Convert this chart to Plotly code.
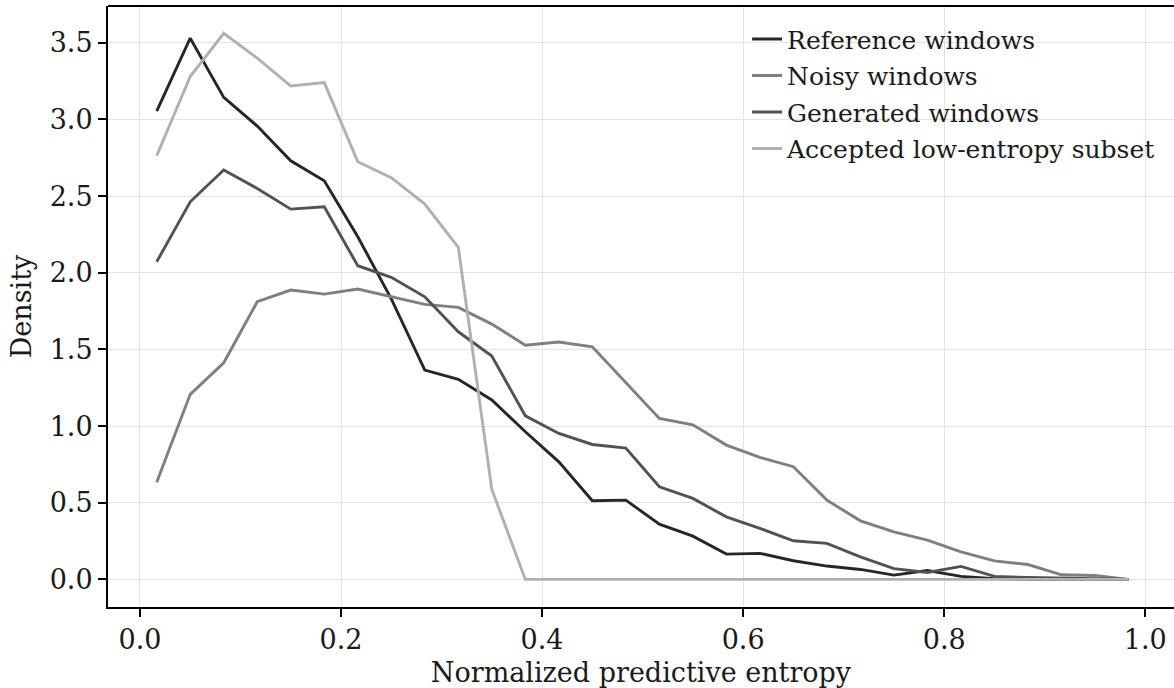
import plotly.graph_objects as go

# bin centres of 30 equal-width bins on [0, 1]
entropy_bins = [(2 * i + 1) / 60 for i in range(30)]

reference_windows = [3.055, 3.53, 3.144, 2.957, 2.73, 2.60, 2.235, 1.83, 1.365, 1.305,
                     1.17, 0.963, 0.767, 0.513, 0.517, 0.36, 0.282, 0.165, 0.17, 0.122,
                     0.087, 0.065, 0.028, 0.058, 0.02, 0.005, 0.0, 0.0, 0.0, 0.0]
noisy_windows = [0.633, 1.207, 1.413, 1.811, 1.887, 1.861, 1.894, 1.843, 1.794, 1.774,
                 1.665, 1.528, 1.548, 1.517, 1.28, 1.05, 1.008, 0.876, 0.796, 0.735,
                 0.517, 0.382, 0.31, 0.256, 0.18, 0.121, 0.097, 0.03, 0.025, 0.0]
generated_windows = [2.072, 2.463, 2.67, 2.55, 2.415, 2.43, 2.046, 1.97, 1.843, 1.615,
                     1.457, 1.067, 0.952, 0.88, 0.856, 0.604, 0.528, 0.408, 0.333, 0.252,
                     0.235, 0.147, 0.07, 0.045, 0.085, 0.02, 0.012, 0.01, 0.005, 0.0]
accepted_subset = [2.763, 3.28, 3.562, 3.40, 3.218, 3.24, 2.724, 2.62, 2.448, 2.166,
                   0.587, 0.0, 0.0, 0.0, 0.0, 0.0, 0.0, 0.0, 0.0, 0.0,
                   0.0, 0.0, 0.0, 0.0, 0.0, 0.0, 0.0, 0.0, 0.0, 0.0]

series_names = ["Reference windows", "Noisy windows", "Generated windows",
                "Accepted low-entropy subset"]
series_values = [reference_windows, noisy_windows, generated_windows, accepted_subset]
series_colors = ["#262626", "#7f7f7f", "#525252", "#b0b0b0"]

x_ticks = [0.0, 0.2, 0.4, 0.6, 0.8, 1.0]
y_ticks = [0.0, 0.5, 1.0, 1.5, 2.0, 2.5, 3.0, 3.5]

FONT = "DejaVu Serif"
TXT = "#1a1a1a"

fig = go.Figure()
for name, vals, col in zip(series_names, series_values, series_colors):
    fig.add_trace(go.Scatter(x=entropy_bins, y=vals, mode="lines", name=name,
                             legendgroup=name,
                             line=dict(color=col, width=2.9)))

fig.update_layout(
    width=1174, height=688,
    margin=dict(l=108, r=0, t=6, b=81, autoexpand=False),
    paper_bgcolor="white", plot_bgcolor="white",
    font=dict(family=FONT, size=27, color=TXT),
    showlegend=True,
    legend=dict(x=0.5995, y=0.983, xanchor="left", yanchor="top",
                bgcolor="rgba(0,0,0,0)", borderwidth=0,
                font=dict(family=FONT, size=25, color=TXT),
                tracegroupgap=1),
    xaxis=dict(range=[-0.0318, 1.0286], tickvals=x_ticks,
               ticktext=[f"{v:.1f}" for v in x_ticks],
               automargin=False,
               showgrid=True, gridcolor="#e3e3e3", gridwidth=1,
               showline=True, linecolor="black", linewidth=2,
               ticks="outside", ticklen=8, tickwidth=1.6, tickcolor="black",
               tickfont=dict(family=FONT, size=27, color=TXT),
               zeroline=False,
               title=dict(text="Normalized predictive entropy",
                          font=dict(family=FONT, size=27, color=TXT))),
    yaxis=dict(range=[-0.18, 3.74], tickvals=y_ticks,
               ticktext=[f"{v:.1f}" for v in y_ticks],
               automargin=False,
               showgrid=True, gridcolor="#e3e3e3", gridwidth=1,
               showline=True, linecolor="black", linewidth=2,
               ticks="outside", ticklen=8, tickwidth=1.6, tickcolor="black",
               tickfont=dict(family=FONT, size=27, color=TXT),
               zeroline=False,
               title=dict(text="Density", standoff=10,
                          font=dict(family=FONT, size=27, color=TXT))),
    shapes=[dict(type="line", xref="paper", yref="paper", x0=0, x1=1, y0=1, y1=1,
                 line=dict(color="black", width=2))],
)

fig.write_html("out.html",
               config={"displayModeBar": False},
               post_script="document.body.style.margin='0px';"
                           "document.body.style.overflow='hidden';")
